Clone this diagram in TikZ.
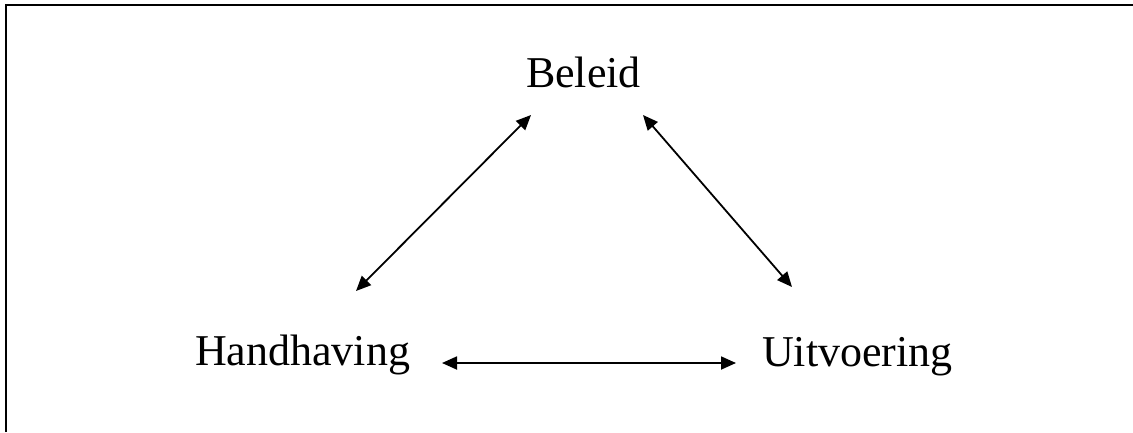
\documentclass[tikz,border=0pt]{standalone}
\usepackage{fontspec}
\setmainfont{Liberation Serif}
\usetikzlibrary{arrows.meta}
\begin{document}
\begin{tikzpicture}[x=1pt,y=-1pt,
  lbl/.style={inner sep=0pt,outer sep=0pt,anchor=base west,font=\fontsize{44}{50}\selectfont},
  link/.style={line width=1.8pt,{Triangle[length=15pt,width=13pt]}-{Triangle[length=15pt,width=13pt]}}]
\useasboundingbox (0,0) rectangle (1133,432);
\fill[white] (0,0) rectangle (1133,432);
\draw[line width=2pt] (6,432) -- (6,5) -- (1133,5);
\node[lbl] (beleid) at (526,87) {Beleid};
\node[lbl] (handh) at (195,365) {Handhaving};
\node[lbl] (uitv) at (762,366) {Uitvoering};
\coordinate (bl) at (531,115);
\coordinate (br) at (643,115);
\coordinate (ht) at (356,291);
\coordinate (hr) at (442,363);
\coordinate (ut) at (792,287);
\coordinate (ul) at (736,363);
\draw[link] (ht) -- (bl);
\draw[link] (br) -- (ut);
\draw[link] (hr) -- (ul);
\end{tikzpicture}
\end{document}
